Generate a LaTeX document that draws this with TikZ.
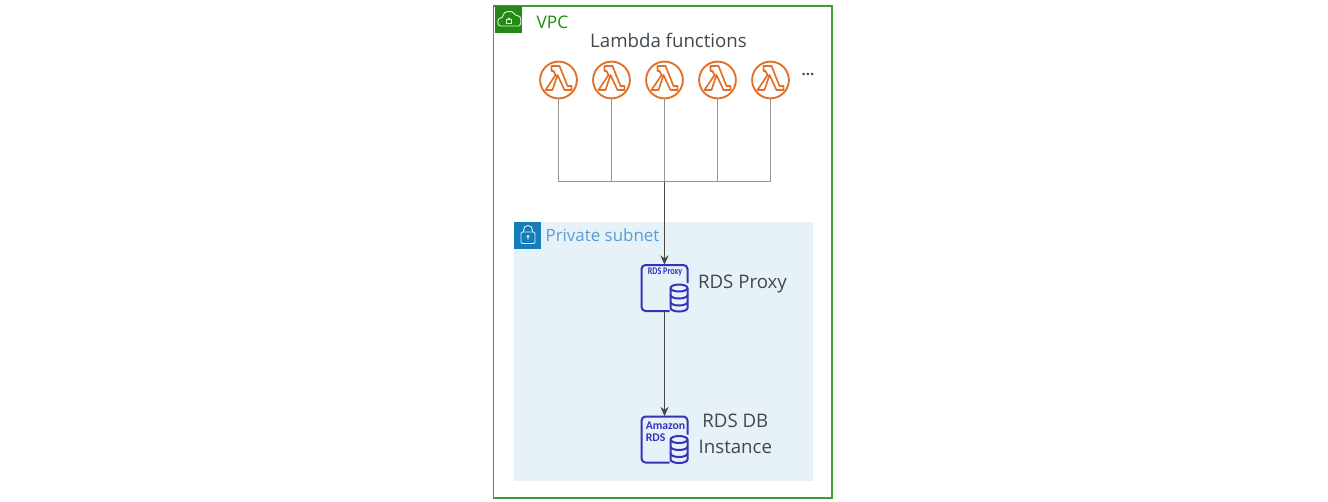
\documentclass[tikz,border=0pt]{standalone}
\usepackage{fontspec}
\setmainfont{Open Sans}
\newfontfamily\iconfont[FakeStretch=0.8]{Carlito}
\newfontfamily\rdsfont{Carlito}
\usepackage{xcolor}
\usetikzlibrary{arrows.meta,positioning}
\definecolor{vpcc}{RGB}{64,155,50}
\definecolor{vpcdark}{RGB}{36,136,20}
\definecolor{subc}{RGB}{20,126,186}
\definecolor{subfill}{RGB}{230,241,248}
\definecolor{subtxt}{RGB}{91,155,213}
\definecolor{lamc}{RGB}{224,112,40}
\definecolor{dbc}{RGB}{51,52,185}
\definecolor{txtc}{RGB}{64,72,78}
\tikzset{
  lbl/.style={font=\fontsize{14}{19.5}\selectfont,text=txtc,inner sep=0pt},
  busline/.style={draw=black!42,line width=0.75pt},
  flow/.style={->,draw=black!72,line width=1.15pt},
  icontxt/.style={font=\iconfont\bfseries\fontsize{7.6}{8}\selectfont,text=dbc,inner sep=0pt},
  dbline/.style={dbc,line width=1.5pt},
  lambdafn/.pic={
    \node (-c) [circle,draw=lamc,line width=1.4pt,minimum size=27.6pt,inner sep=0pt] at (0,0) {};
    \draw[lamc,line width=1.25pt,line join=round] (-7,-14) -- (1,-14) -- (9,6) -- (13,6) -- (13,10) -- (6,10)
      -- (-1,-5) -- (-6,10) -- (-13,10) -- (-3,-5) -- (-5,-9) -- (-7,-9) -- cycle;
  },
  dbicon/.pic={
    \node (-box) [minimum size=34.5pt,inner sep=0pt] at (0,0) {};
    \draw[dbline,rounded corners=3pt] (5,23) -- (-23,23) -- (-23,-23) -- (23,-23) -- (23,-5);
    \draw[dbline,fill=subfill] (6,0) -- (6,20) arc[start angle=180,end angle=0,x radius=8.5,y radius=3.5]
      -- (23,0) arc[start angle=0,end angle=-180,x radius=8.5,y radius=3.5] -- cycle;
    \draw[dbline] (6,0) arc[start angle=180,end angle=0,x radius=8.5,y radius=3.5];
    \draw[dbline] (6,7) arc[start angle=180,end angle=0,x radius=8.5,y radius=3.5];
    \draw[dbline] (6,14) arc[start angle=180,end angle=0,x radius=8.5,y radius=3.5];
  }
}
\begin{document}
\begin{tikzpicture}[x=0.75pt,y=-0.75pt,>={Stealth[length=7pt,width=6pt]}]
  \useasboundingbox (0,0) rectangle (1328,501);
  % groups
  \draw[vpcc,line width=1.1pt] (493.5,6) rectangle (832,498);
  \fill[vpcdark] (495,6) rectangle (522,33);
  \fill[subfill] (514,222) rectangle (813,481);
  \fill[subc] (514,222) rectangle (541,249);
  % cloud and lock
  \draw[white!85!vpcdark,line width=0.7pt,rounded corners=2pt] (503,26) .. controls (497,26) and (497,18) .. (503,18)
    .. controls (503,11) and (513,10) .. (515,16) .. controls (522,15) and (522,26) .. (516,26) -- cycle;
  \draw[white!85!vpcdark,line width=0.55pt] (506.5,19.5) rectangle (511.5,23);
  \draw[white!85!vpcdark,line width=0.55pt] (507.5,19.5) arc[start angle=180,end angle=360,radius=1.5];
  \draw[white!85!subc,line width=0.7pt,rounded corners=1pt] (521,232) rectangle (535,243.5);
  \draw[white!85!subc,line width=0.7pt] (523.5,232) -- (523.5,230) arc[start angle=180,end angle=360,radius=4.5] -- (532.5,232);
  \draw[white!85!subc,line width=0.6pt] (528,236.5) circle[radius=1] (528,237.5) -- (528,240);
  \node (vpc) [font=\fontsize{13}{16}\selectfont,text=vpcdark,inner sep=0pt] at (552.5,22) {VPC};
  \node (subnet) [font=\fontsize{12.7}{16}\selectfont,text=subtxt,inner sep=0pt] at (602.5,235) {Private subnet};
  \node (title) [lbl] at (668.5,40) {Lambda functions};
  % lambdas
  \foreach \i/\x in {1/558.5,2/611.5,3/664.5,4/717.5,5/770.5}
    \pic (lam\i) at (\x,80) {lambdafn};
  \node (more) [font=\bfseries\fontsize{11}{12}\selectfont,text=txtc,inner sep=0pt] at (808,74) {...};
  % databases
  \pic (proxy) at (664.5,288) {dbicon};
  \pic (rds) at (664.5,439.5) {dbicon};
  \node (proxytag) [icontxt] at (665,272) {RDS Proxy};
  \node (rdstag) [icontxt,font=\rdsfont\bfseries\fontsize{8.8}{8.4}\selectfont,align=left,anchor=north west] at (645.5,422) {Amazon\\RDS};
  \node (proxylbl) [lbl,right=7.5pt of proxy-box,yshift=3pt] {RDS Proxy};
  \node (rdslbl) [lbl,align=center,right=8pt of rds-box,yshift=4pt] {RDS DB\\Instance};
  % connectors
  \coordinate (jn) at (664.5,181.5);
  \foreach \i in {1,2,4,5}
    \draw[busline] (lam\i-c.south) |- (jn);
  \draw[busline] (lam3-c.south) -- (jn);
  \draw[flow] (jn) -- (proxy-box.north);
  \draw[flow] (proxy-box.south) -- (rds-box.north);
\end{tikzpicture}
\end{document}
